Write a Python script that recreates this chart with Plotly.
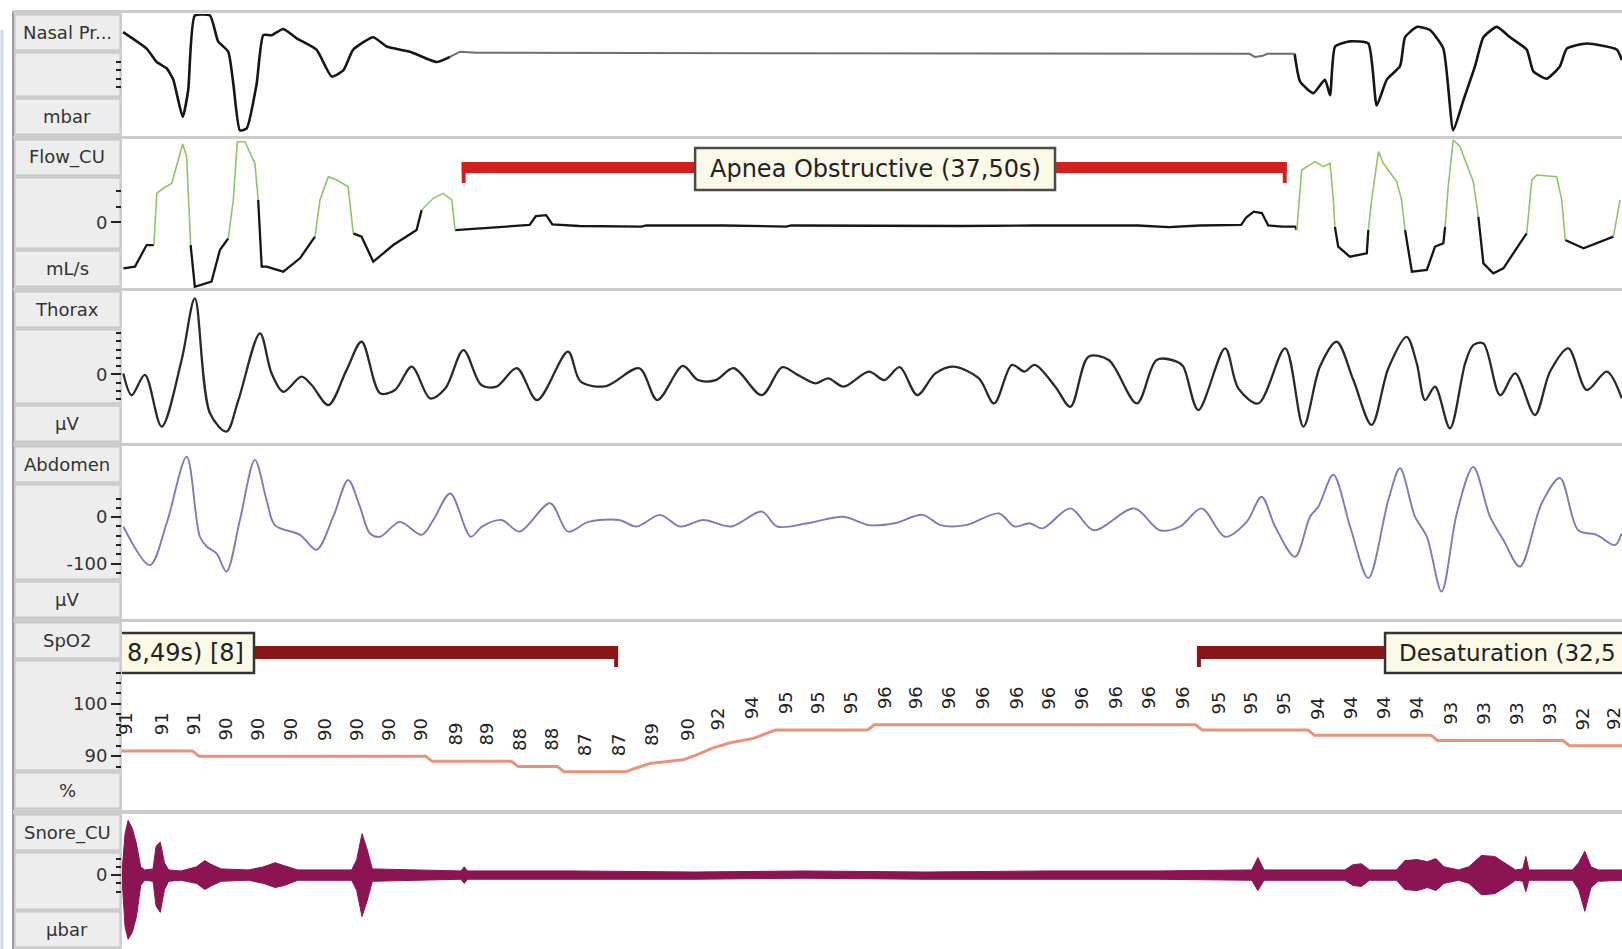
import plotly.graph_objects as go

W, H = 1622, 949
PLOT_X0 = 122          # left edge of the trace area, px
T_MAX = 68.18          # seconds across the page

# ---------------- Nasal pressure ----------------
nasal_t = [0.05, 1.12, 1.58, 2.03, 2.33, 2.76, 3.01, 3.31, 4.00, 4.37,
           4.83, 5.06, 5.36, 5.67, 6.12, 6.42, 6.80, 7.33, 7.94, 8.84,
           9.53, 10.06, 10.51, 11.42, 12.03, 13.09, 14.30, 14.91, 15.36, 16.12,
           51.25, 51.49, 51.86, 52.05, 53.30, 53.55, 54.15, 54.68, 54.91, 55.14,
           55.81, 56.65, 57.03, 57.49, 58.09, 58.32, 58.85, 59.45, 60.06, 60.51,
           60.97, 61.50, 61.88, 62.49, 63.09, 63.85, 64.15, 64.76, 65.36, 65.67,
           66.58, 67.95, 68.17]
nasal_v = [21, 5, -8, -14, -25, -61, -35, 37, 37, 12,
           2, -29, -74, -72, -29, 18, 18, 24, 15, 4,
           -22, -16, 4, 16, 7, 2, -8, -3, 2, 1,
           0, -3, -2, 0, 0, -27, -38, -25, -40, 7,
           12, 10, -50, -25, -12, 16, 26, 23, 5, -74,
           -45, -12, 16, 26, 16, 4, -17, -24, -12, 5,
           10, 4, -6]

# ---------------- Flow (mL/s) ----------------
flow_t = [0.06, 0.59, 1.12, 1.45, 1.58, 1.88, 2.26, 2.76, 2.94, 3.12,
          3.31, 4.07, 4.45, 4.83, 5.06, 5.24, 5.59, 6.04, 6.19, 6.35,
          6.57, 7.33, 8.09, 8.77, 9.00, 9.38, 9.76, 10.28, 10.51, 10.89,
          11.42, 12.33, 13.39, 13.62, 14.15, 14.60, 14.99, 15.14, 15.67, 17.18,
          17.96, 18.53, 18.81, 19.28, 19.56, 20.78, 23.60, 23.84, 27.37, 30.19,
          30.42, 35.36, 36.77, 38.18, 41.47, 46.17, 47.58, 48.99, 50.87, 51.11,
          51.44, 51.81, 52.10, 52.76, 53.32, 53.40, 53.62, 54.23, 54.60, 54.91,
          55.06, 55.13, 55.28, 55.81, 56.58, 56.65, 56.80, 57.11, 57.33, 57.94,
          58.16, 58.32, 58.63, 59.31, 59.68, 60.06, 60.14, 60.28, 60.51, 60.82,
          61.42, 61.65, 61.88, 62.33, 62.79, 63.54, 63.85, 64.08, 64.31, 65.21,
          65.44, 65.60, 66.43, 67.79, 68.09]
flow_v = [-444, -428, -219, -219, 281, 330, 378, 758, 635, -219,
          -622, -573, -267, -154, 217, 780, 780, 571, 217, -428,
          -428, -476, -347, -138, 217, 442, 410, 345, -106, -138,
          -380, -219, -74, 120, 233, 281, 217, -74, -67, -42,
          -30, -25, 60, 70, -20, -35, -40, -30, -30, -40,
          -30, -35, -40, -35, -30, -30, -45, -30, -25, 50,
          104, 90, -30, -40, -40, -74, 507, 587, 539, 571,
          217, -42, -235, -332, -299, -74, 217, 684, 571, 394,
          217, -74, -476, -460, -235, -202, -42, 345, 797, 732,
          394, 55, -396, -492, -444, -202, -106, 410, 458, 442,
          217, -170, -250, -138, 217]

# ---------------- Thorax (µV) ----------------
thorax_t = [0.06, 0.44, 1.04, 1.80, 2.71, 3.31, 4.00, 4.75, 5.29, 6.27,
            6.80, 7.33, 8.16, 8.62, 9.38, 10.21, 10.89, 11.73, 12.41, 13.17,
            14.01, 14.70, 15.52, 16.33, 17.02, 17.95, 18.87, 20.27, 20.85, 22.01,
            23.51, 24.33, 25.49, 26.18, 26.99, 27.81, 29.08, 30.01, 30.71, 31.52,
            32.10, 32.80, 33.95, 34.65, 35.35, 36.15, 36.97, 37.78, 38.94, 39.64,
            40.45, 41.02, 41.49, 42.42, 43.11, 43.93, 44.85, 46.13, 47.03, 47.94,
            48.24, 48.92, 50.14, 50.74, 51.65, 52.87, 53.70, 54.45, 55.21, 55.97,
            56.80, 57.56, 58.39, 58.85, 59.23, 59.68, 60.36, 61.05, 61.42, 61.88,
            62.64, 63.32, 64.22, 64.91, 65.74, 66.58, 67.49, 68.17]
thorax_v = [5, -100, -2, -252, 70, 368, -188, -276, -124, 199,
            5, -84, -11, -51, -148, 22, 158, -91, -75, 38,
            -116, -67, 118, -51, -59, 30, -124, 110, -35, -56,
            30, -124, 41, -27, -27, 30, -100, 35, -2, -43,
            -19, -59, 14, -27, 35, -100, 5, 38, -18, -140,
            46, 14, 46, -59, -156, 86, 70, -140, 70, 62,
            38, -172, 126, -67, -140, 126, -252, 38, 158, -27,
            -244, 30, 182, 54, -124, -59, -260, 54, 142, 150,
            -100, 5, -196, 14, 126, -75, 14, -116]

# ---------------- Abdomen (µV) ----------------
abdomen_t = [0.06, 1.27, 2.03, 2.94, 3.54, 3.85, 4.30, 4.75, 5.36, 6.04,
             6.57, 6.95, 8.09, 8.84, 9.60, 10.28, 10.81, 11.27, 11.73, 12.63,
             13.62, 14.15, 14.92, 15.85, 16.37, 17.25, 18.07, 19.46, 20.27, 21.20,
             22.59, 23.40, 24.45, 25.37, 26.42, 27.69, 29.08, 29.78, 31.17, 32.80,
             33.95, 35.11, 36.39, 37.20, 38.36, 39.87, 40.56, 41.26, 41.84, 43.11,
             44.16, 46.01, 47.17, 48.10, 49.07, 50.14, 51.12, 51.80, 52.41, 53.32,
             54.00, 54.38, 55.06, 55.82, 56.65, 57.56, 58.09, 58.77, 59.31, 59.98,
             60.67, 61.42, 62.18, 62.79, 63.54, 64.53, 65.36, 66.19, 67.03, 67.86,
             68.16]
abdomen_v = [-20, -103, -13, 130, -42, -63, -78, -117, -6, 123,
             37, -17, -38, -70, 1, 80, 23, -35, -42, -10,
             -38, -6, 51, -42, -20, -6, -31, 30, -31, -10,
             -6, -20, 5, -20, -6, -20, 12, -20, -13, 1,
             -17, -13, 5, -17, -17, 8, -20, -13, -24, 19,
             -28, 19, -28, -20, 19, -42, -10, 44, -20, -85,
             1, 23, 91, -20, -131, 37, 105, 1, -42, -160,
             8, 108, 1, -49, -106, 30, 84, -28, -38, -60,
             -35]

# ---------------- SpO2 (%) ----------------
spo2_t = [0.0, 3.2, 3.5, 13.8, 14.1, 17.7, 18.0, 19.8, 20.1, 22.9,
          23.2, 24.0, 25.5, 26.1, 26.8, 27.6, 28.7, 29.7, 33.9, 34.2,
          48.8, 49.1, 53.9, 54.2, 59.5, 59.8, 65.5, 65.8, 68.2]
spo2_v = [91, 91, 90, 90, 89, 89, 88, 88, 87, 87,
          87.5, 88.6, 89.3, 90.2, 91.5, 92.5, 93.4, 95, 95, 96,
          96, 95, 95, 94, 94, 93, 93, 92, 92]
spo2_label_t = [0.19, 1.83, 3.29, 4.70, 6.16, 7.66, 9.17, 10.63, 12.08, 13.54,
                15.14, 16.55, 18.06, 19.51, 21.02, 22.57, 24.07, 25.67, 27.08, 28.59,
                30.14, 31.60, 33.10, 34.65, 36.06, 37.57, 39.12, 40.67, 42.13, 43.63,
                45.19, 46.69, 48.20, 49.84, 51.25, 52.76, 54.31, 55.82, 57.32, 58.83,
                60.37, 61.88, 63.39, 64.89, 66.40, 67.78]
spo2_label_v = [91, 91, 91, 90, 90, 90, 90, 90, 90, 90,
                89, 89, 88, 88, 87, 87, 89, 90, 92, 94,
                95, 95, 95, 96, 96, 96, 96, 96, 96, 96,
                96, 96, 96, 95, 95, 95, 94, 94, 94, 94,
                93, 93, 93, 93, 92, 92]

# ---------------- Snore envelope (µbar) ----------------
snore_t = [0.00, 0.14, 0.28, 0.47, 0.66, 0.85, 1.03, 1.41, 1.55, 1.74,
           1.93, 2.12, 2.68, 3.39, 3.76, 4.09, 4.51, 5.74, 6.44, 6.96,
           7.38, 7.99, 10.44, 10.67, 10.91, 11.14, 11.38, 15.40, 15.56, 15.70,
           20.50, 26.00, 31.00, 36.50, 42.00, 47.00, 51.35, 51.63, 51.91, 55.58,
           55.95, 56.33, 56.71, 57.93, 58.31, 58.87, 59.34, 59.72, 60.09, 60.75,
           61.22, 61.79, 62.40, 63.01, 63.34, 63.67, 63.81, 63.95, 65.93, 66.21,
           66.49, 66.77, 67.10, 68.18]
snore_upper = [3, 40, 53, 45, 30, 8, 5, 6, 28, 32,
               12, 5, 4, 8, 14, 10, 6, 5, 8, 12,
               9, 5, 5, 15, 40, 25, 6, 4, 8, 4,
               4, 3, 4, 3, 4, 4, 5, 17, 5, 5,
               10, 11, 5, 5, 14, 15, 13, 16, 8, 5,
               8, 19, 18, 10, 5, 6, 18, 5, 5, 12,
               23, 8, 5, 5]
snore_lower = [-3, -50, -62, -55, -40, -10, -5, -6, -30, -36,
               -14, -6, -5, -8, -14, -10, -6, -5, -8, -12,
               -10, -5, -5, -15, -40, -25, -6, -4, -8, -4,
               -4, -4, -3, -4, -4, -4, -5, -15, -5, -5,
               -10, -11, -5, -5, -14, -15, -12, -15, -8, -5,
               -8, -19, -18, -10, -5, -6, -16, -5, -5, -14,
               -35, -12, -6, -5]

# ---------------- scored events ----------------
apnea_start, apnea_end = 15.44, 52.94
apnea_text = "Apnea Obstructive (37,50s)"
desat1_end = 22.55
desat1_text = "8,49s) [8]"
desat2_start = 48.86
desat2_text = "Desaturation (32,5"

# ---------------- channel rows ----------------
rows = [
    dict(name="Nasal Pr...", unit="mbar", top=14, bot=136, rng=[-79.48, 38.47],
         tv=[], tt=[], minor=[-32, -24, -16, -8]),
    dict(name="Flow_CU", unit="mL/s", top=139, bot=288, rng=[-634.3, 806.2],
         tv=[0], tt=["0"], minor=[150, 300]),
    dict(name="Thorax", unit="µV", top=291, bot=443, rng=[-331.4, 403.4],
         tv=[0], tt=["0"], minor=list(range(-120, 201, 40))),
    dict(name="Abdomen", unit="µV", top=446, bot=619, rng=[-218.7, 152.9],
         tv=[0, -100], tt=["0", "-100"], minor=list(range(-120, 41, 20))),
    dict(name="SpO2", unit="%", top=622, bot=810, rng=[79.69, 115.68],
         tv=[90, 100], tt=["90", "100"], minor=list(range(88, 107, 2))),
    dict(name="Snore_CU", unit="µbar", top=814, bot=949, rng=[-71.44, 59.07],
         tv=[0], tt=["0"], minor=[-16, -8, 8, 16]),
]

FONT = "DejaVu Sans"
fig = go.Figure()


def ax(i):
    return "" if i == 1 else str(i)


def py(ypix):
    return 1 - ypix / H


def px(xpix):
    return xpix / W


for i, r in enumerate(rows, start=1):
    s = ax(i)
    fig.update_layout(**{
        f"xaxis{s}": dict(domain=[PLOT_X0 / W, 1], range=[0, T_MAX], visible=False,
                          anchor=f"y{s}", fixedrange=True),
        f"yaxis{s}": dict(domain=[py(r["bot"]), py(r["top"])], range=r["rng"],
                          anchor=f"x{s}", showgrid=False, zeroline=False, showline=False,
                          ticks="outside", ticklen=10, tickwidth=1.5, tickcolor="#222",
                          tickmode="array", tickvals=r["tv"], ticktext=r["tt"],
                          tickfont=dict(family=FONT, size=18, color="#333"),
                          fixedrange=True,
                          minor=dict(tickmode="array", tickvals=r["minor"], ticks="outside",
                                     ticklen=5, tickwidth=1.5, tickcolor="#222")),
    })


def runs(t, v, pick):
    """Split a polyline into runs of consecutive segments sharing pick()."""
    out = {True: ([], []), False: ([], [])}
    cur = None
    for i in range(len(t) - 1):
        k = bool(pick(v[i], v[i + 1]))
        xs, ys = out[k]
        if k != cur:
            if xs:
                xs.append(None)
                ys.append(None)
            xs.append(t[i])
            ys.append(v[i])
            cur = k
        xs.append(t[i + 1])
        ys.append(v[i + 1])
    return out


def line(x, y, row, color, width, shape="linear", smoothing=1.0):
    s = ax(row)
    fig.add_trace(go.Scatter(x=x, y=y, mode="lines", xaxis=f"x{s}", yaxis=f"y{s}",
                             line=dict(color=color, width=width, shape=shape,
                                       smoothing=smoothing),
                             hoverinfo="skip", connectgaps=False))


# Nasal pressure: flat (no-flow) stretch drawn thinner and grey
nr = runs(nasal_t, nasal_v, lambda a, b: abs(a) <= 3 and abs(b) <= 3)
line(*nr[False], 1, "#161616", 2.6, "spline", 0.5)
line(*nr[True], 1, "#6e6e6e", 2.0)

# Flow: inspiratory strokes green, the rest black
fr = runs(flow_t, flow_v, lambda a, b: max(a, b) > 150 and min(a, b) > -250)
line(*fr[False], 2, "#161616", 2.3)
line(*fr[True], 2, "#8cc862", 1.6)

line(thorax_t, thorax_v, 3, "#2a2a2a", 2.3, "spline", 0.9)
line(abdomen_t, abdomen_v, 4, "#7c7cbc", 1.9, "spline", 0.9)
line(spo2_t, spo2_v, 5, "#e8937c", 3.0)

# Snore: amplitude envelope as a filled band
fig.add_trace(go.Scatter(x=snore_t + snore_t[::-1], y=snore_upper + snore_lower[::-1],
                         mode="lines", fill="toself", fillcolor="#8c1452",
                         line=dict(color="#8c1452", width=1), xaxis="x6", yaxis="y6",
                         hoverinfo="skip"))

shapes = []
annotations = []

# ---- left label panel ----
shapes.append(dict(type="rect", xref="paper", yref="paper", x0=px(13), x1=px(122),
                   y0=0, y1=py(12), fillcolor="#d0d0d0", line=dict(width=0), layer="below"))
shapes.append(dict(type="line", xref="paper", yref="paper", x0=px(13), x1=px(13),
                   y0=0, y1=py(11), line=dict(color="#9c9c9c", width=2), layer="below"))
shapes.append(dict(type="line", xref="paper", yref="paper", x0=px(2), x1=px(2),
                   y0=0, y1=py(30), line=dict(color="#cad8e6", width=3), layer="below"))

for r in rows:
    top, bot = r["top"], r["bot"]
    boxes = [(top + 1, top + 36), (top + 39, bot - 40), (bot - 37, bot - 2)]
    for b0, b1 in boxes:
        shapes.append(dict(type="rect", xref="paper", yref="paper", x0=px(15), x1=px(120),
                           y0=py(b1), y1=py(b0), fillcolor="#ededed",
                           line=dict(color="#c2c2c2", width=1), layer="below"))
    annotations.append(dict(xref="paper", yref="paper", x=px(67), y=py(top + 18.5),
                            text=r["name"], showarrow=False, xanchor="center", yanchor="middle",
                            font=dict(family=FONT, size=18, color="#333")))
    annotations.append(dict(xref="paper", yref="paper", x=px(67), y=py(bot - 19.5),
                            text=r["unit"], showarrow=False, xanchor="center", yanchor="middle",
                            font=dict(family=FONT, size=18, color="#333")))

# row separators and top border
for y0, y1 in [(10, 13), (136, 139), (288, 291), (443, 446), (619, 622), (810, 814)]:
    shapes.append(dict(type="rect", xref="paper", yref="paper", x0=px(13), x1=1,
                       y0=py(y1), y1=py(y0), fillcolor="#cbcbcb", line=dict(width=0),
                       layer="below"))

# ---- apnea event on the flow channel ----
APNEA_RED = "#d41f1f"
shapes += [
    dict(type="rect", xref="x2", yref="y2", x0=apnea_start, x1=apnea_end, y0=478, y1=584,
         fillcolor=APNEA_RED, line=dict(width=0)),
    dict(type="rect", xref="x2", yref="y2", x0=apnea_start, x1=apnea_start + 0.18, y0=381,
         y1=584, fillcolor=APNEA_RED, line=dict(width=0)),
    dict(type="rect", xref="x2", yref="y2", x0=apnea_end - 0.18, x1=apnea_end, y0=381,
         y1=584, fillcolor=APNEA_RED, line=dict(width=0)),
    dict(type="rect", xref="x2", yref="y2", x0=26.05, x1=42.41, y0=313, y1=719,
         fillcolor="#fcf9e6", line=dict(color="#4a4a4a", width=2.5)),
]
annotations.append(dict(xref="x2", yref="y2", x=(26.05 + 42.41) / 2, y=516, text=apnea_text,
                        showarrow=False, xanchor="center", yanchor="middle",
                        font=dict(family=FONT, size=24, color="#222")))

# ---- desaturation events on the SpO2 channel ----
DESAT_RED = "#8a1717"
BAR_LO, BAR_HI, TICK_LO = 108.6, 111.09, 107.07
BOX_LO, BOX_HI = 105.92, 113.58
shapes += [
    dict(type="rect", xref="x5", yref="y5", x0=-1, x1=desat1_end, y0=BAR_LO, y1=BAR_HI,
         fillcolor=DESAT_RED, line=dict(width=0)),
    dict(type="rect", xref="x5", yref="y5", x0=desat1_end - 0.18, x1=desat1_end, y0=TICK_LO,
         y1=BAR_HI, fillcolor=DESAT_RED, line=dict(width=0)),
    dict(type="rect", xref="x5", yref="y5", x0=-1, x1=6.0, y0=BOX_LO, y1=BOX_HI,
         fillcolor="#fcf9e6", line=dict(color="#333", width=2.5)),
    dict(type="rect", xref="x5", yref="y5", x0=desat2_start, x1=57.5, y0=BAR_LO, y1=BAR_HI,
         fillcolor=DESAT_RED, line=dict(width=0)),
    dict(type="rect", xref="x5", yref="y5", x0=desat2_start, x1=desat2_start + 0.18,
         y0=TICK_LO, y1=BAR_HI, fillcolor=DESAT_RED, line=dict(width=0)),
    dict(type="rect", xref="x5", yref="y5", x0=57.41, x1=T_MAX + 2, y0=BOX_LO, y1=BOX_HI,
         fillcolor="#fcf9e6", line=dict(color="#333", width=2.5)),
]
annotations.append(dict(xref="x5", yref="y5", x=0.14, y=(BOX_LO + BOX_HI) / 2,
                        text=desat1_text, showarrow=False, xanchor="left", yanchor="middle",
                        font=dict(family=FONT, size=24, color="#222")))
annotations.append(dict(xref="x5", yref="y5", x=57.94, y=(BOX_LO + BOX_HI) / 2,
                        text=desat2_text, showarrow=False, xanchor="left", yanchor="middle",
                        font=dict(family=FONT, size=23, color="#222")))

# ---- SpO2 value labels, rotated ----
for t, v in zip(spo2_label_t, spo2_label_v):
    annotations.append(dict(xref="x5", yref="y5", x=t, y=v, yshift=27, text=str(v),
                            showarrow=False, textangle=-90, xanchor="center",
                            yanchor="middle", font=dict(family=FONT, size=18, color="#222")))

fig.update_layout(width=W, height=H, margin=dict(l=0, r=0, t=0, b=0),
                  paper_bgcolor="white", plot_bgcolor="white", showlegend=False,
                  shapes=shapes, annotations=annotations, hovermode=False)

fig.write_html("out.html", config={"displayModeBar": False})
